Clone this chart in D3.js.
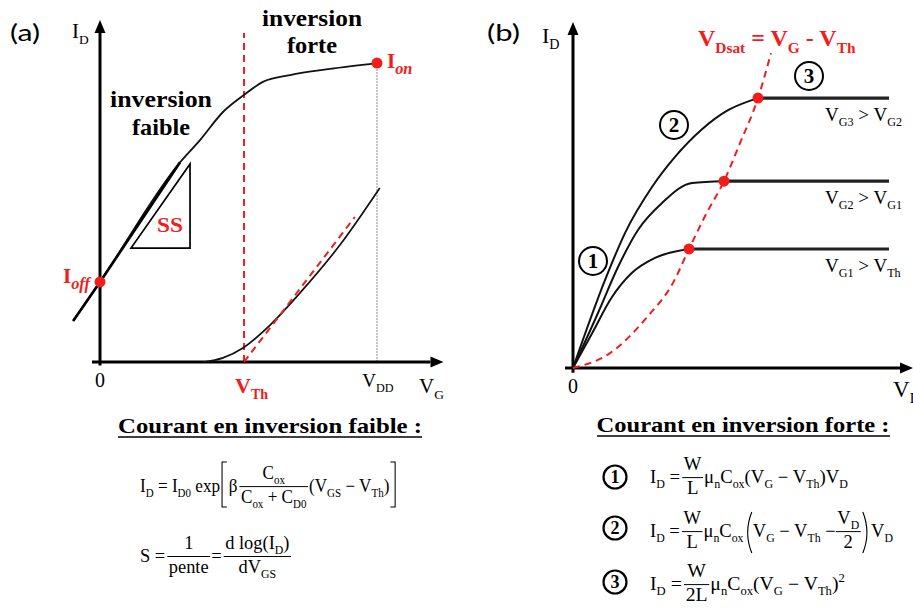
<!DOCTYPE html>
<html>
<head>
<meta charset="utf-8">
<script src="https://cdn.jsdelivr.net/npm/d3@7"></script>
<style>
  body { margin: 0; background: #fff; }
  svg { display: block; }
</style>
</head>
<body>
<svg id="chart" width="913" height="608"></svg>
<script>
// ---------- panel (a) : ID(VG), log and linear scale
const vTh = 5.2, vDD = 10;
const logVg = [-0.97, 0, 2.89, 3.61, 4.44, 5.2, 5.88, 6.86, 8.3, 10];
const logId = [1.2, 2.34, 5.84, 6.49, 7.31, 7.81, 8.19, 8.39, 8.57, 8.74];
const linVg = [3.72, 4.44, 5.16, 6.14, 7.22, 8.66, 10.1];
const linId = [0, 0.12, 0.41, 1.08, 2.02, 3.42, 5.09];
const tanVg = [5.2, 9.2];
const tanId = [0, 4.24];
const ssVg = [1.12, 3.25, 3.25];
const ssId = [3.33, 3.33, 5.79];
const iOff = [0, 2.34];
const iOn = [10, 8.74];

// ---------- panel (b) : ID(VD) for three gate voltages
const vg1Vd = [0, 0.95, 1.95, 2.95, 4.1, 5.8];
const vg1Id = [0, 1.0, 2.05, 2.75, 3.18, 3.44];
const vg2Vd = [0, 1.25, 2.25, 3.25, 4.45, 5.95, 7.55];
const vg2Id = [0, 1.59, 2.92, 3.99, 4.77, 5.35, 5.40];
const vg3Vd = [0, 1.6, 2.6, 3.95, 5.1, 6.45, 7.75, 9.25];
const vg3Id = [0, 2.54, 3.9, 5.23, 6.1, 6.9, 7.45, 7.8];
const satVd = [5.8, 7.55, 9.25];
const satId = [3.44, 5.40, 7.8];
const vdEnd = 15.8;
const dsatVd = [0, 1.85, 3.7, 5.0, 5.8, 6.7, 7.55, 8.35, 9.25, 9.9];
const dsatId = [0, 0.43, 1.47, 2.46, 3.44, 4.5, 5.40, 6.5, 7.8, 9.1];
const curveLabels = [["G1", "Th"], ["G2", "G1"], ["G3", "G2"]];

const SERIF = "'Liberation Serif', 'Times New Roman', serif";
const SANS = "Lato, 'Open Sans', sans-serif";
const RED = "#f21c1c";

const svg = d3.select("#chart");

const xA = d3.scaleLinear().domain([0, 10]).range([100, 377]);
const yA = d3.scaleLinear().domain([0, 10]).range([362, 20]);
const xB = d3.scaleLinear().domain([0, 16]).range([573, 893]);
const yB = d3.scaleLinear().domain([0, 10]).range([368, 22]);

// text with sub/superscripts: parts = ["V", ["Th","s"], ...]
function rich(g, x, y, parts, size, opt = {}) {
  const t = g.append("text").attr("x", x).attr("y", y)
    .attr("font-size", size)
    .attr("font-family", opt.family || SERIF)
    .attr("fill", opt.fill || "#000");
  if (opt.bold) t.attr("font-weight", "bold");
  if (opt.anchor) t.attr("text-anchor", opt.anchor);
  let off = 0;
  parts.forEach(p => {
    const [s, k] = Array.isArray(p) ? p : [p, "n"];
    const target = k.includes("s") ? size * 0.28 : k.includes("p") ? -size * 0.42 : 0;
    const ts = t.append("tspan").attr("dy", target - off).text(s);
    off = target;
    if (k.includes("s") || k.includes("p")) ts.attr("font-size", size * (opt.sub || 0.64));
    if (k.includes("i")) ts.attr("font-style", "italic");
  });
  return t;
}

function arrow(g, x1, y1, x2, y2, w = 3) {
  const L = 13, H = 5.5;
  const a = Math.atan2(y2 - y1, x2 - x1);
  const bx = x2 - L * Math.cos(a), by = y2 - L * Math.sin(a);
  g.append("line").attr("x1", x1).attr("y1", y1).attr("x2", bx).attr("y2", by)
    .attr("stroke", "#000").attr("stroke-width", w);
  g.append("path")
    .attr("d", `M${x2},${y2}L${bx - H * Math.sin(a)},${by + H * Math.cos(a)}L${bx + H * Math.sin(a)},${by - H * Math.cos(a)}Z`)
    .attr("fill", "#000");
}

function plain(g, x, y, s, size, opt = {}) {
  const t = g.append("text").attr("x", x).attr("y", y).text(s)
    .attr("font-size", size)
    .attr("font-family", opt.family || SERIF)
    .attr("font-weight", opt.bold ? "bold" : "normal")
    .attr("fill", opt.fill || "#000")
    .attr("text-anchor", opt.anchor || "start");
  if (opt.len) t.attr("textLength", opt.len).attr("lengthAdjust", "spacingAndGlyphs");
  return t;
}

// simple formula layout: text runs, fractions, brackets; squeezed to a width
function formula(parent, x, y, items, size, width) {
  const g = parent.append("g");
  let cx = x;
  items.forEach(it => {
    if (it.gap) { cx += it.gap; return; }
    if (it.frac) {
      const n = rich(g, 0, y - size * 0.7, it.frac[0], size, { anchor: "middle" });
      const d = rich(g, 0, y + size * 0.62, it.frac[1], size, { anchor: "middle" });
      const w = Math.max(n.node().getBBox().width, d.node().getBBox().width) + 3;
      n.attr("x", cx + w / 2);
      d.attr("x", cx + w / 2);
      g.append("line").attr("x1", cx).attr("x2", cx + w)
        .attr("y1", y - size * 0.3).attr("y2", y - size * 0.3)
        .attr("stroke", "#000").attr("stroke-width", 1);
      cx += w + 1;
    } else if (it.br) {
      const t = y + it.top, b = y + it.bot, w = it.w;
      let d;
      if (it.br === "[") d = `M${cx + w - 2},${t}H${cx + 2}V${b}H${cx + w - 2}`;
      else if (it.br === "]") d = `M${cx + 1},${t}H${cx + w - 3}V${b}H${cx + 1}`;
      else if (it.br === "(") d = `M${cx + w - 1},${t}Q${cx},${(t + b) / 2} ${cx + w - 1},${b}`;
      else d = `M${cx + 1},${t}Q${cx + w},${(t + b) / 2} ${cx + 1},${b}`;
      g.append("path").attr("d", d).attr("fill", "none").attr("stroke", "#000").attr("stroke-width", 1.1);
      cx += w;
    } else {
      const t = rich(g, cx, y, it.t, size);
      cx += t.node().getComputedTextLength();
    }
  });
  if (width) {
    const k = width / (cx - x);
    g.attr("transform", `translate(${x},0) scale(${k},1) translate(${-x},0)`);
  }
}

const line = (sx, sy, curve) => d3.line().x(d => sx(d[0])).y(d => sy(d[1])).curve(curve || d3.curveLinear);

// ================= panel (a)
const gA = svg.append("g");

gA.append("line")
  .attr("x1", xA(vDD)).attr("x2", xA(vDD)).attr("y1", yA(0)).attr("y2", yA(iOn[1]))
  .attr("stroke", "#999").attr("stroke-width", 1.1).attr("stroke-dasharray", "2,1");

gA.append("line")
  .attr("x1", xA(vTh)).attr("x2", xA(vTh)).attr("y1", yA(0)).attr("y2", yA(9.62))
  .attr("stroke", RED).attr("stroke-width", 2).attr("stroke-dasharray", "7,5");

arrow(gA, xA(-0.29), yA(0), xA(12.4), yA(0));
arrow(gA, xA(0), yA(-0.1), xA(0), yA(10));

const logPts = d3.zip(logVg, logId);
gA.append("path").attr("d", line(xA, yA, d3.curveMonotoneX)(logPts))
  .attr("fill", "none").attr("stroke", "#111").attr("stroke-width", 1.8);
gA.append("path").attr("d", line(xA, yA)(logPts.slice(0, 3)))
  .attr("fill", "none").attr("stroke", "#000").attr("stroke-width", 2.7);

gA.append("path").attr("d", line(xA, yA, d3.curveMonotoneX)(d3.zip(linVg, linId)))
  .attr("fill", "none").attr("stroke", "#111").attr("stroke-width", 1.7);

gA.append("path").attr("d", line(xA, yA)(d3.zip(tanVg, tanId)))
  .attr("fill", "none").attr("stroke", RED).attr("stroke-width", 2).attr("stroke-dasharray", "7,5");

gA.append("path").attr("d", line(xA, yA)(d3.zip(ssVg, ssId)) + "Z")
  .attr("fill", "none").attr("stroke", "#000").attr("stroke-width", 1.7);

gA.selectAll("circle.pt").data([iOff, iOn]).join("circle")
  .attr("class", "pt").attr("cx", d => xA(d[0])).attr("cy", d => yA(d[1]))
  .attr("r", 5.5).attr("fill", RED);

plain(gA, 10, 41, "(a)", 23, { family: SANS, len: 30 });
rich(gA, 72, 38, ["I", ["D", "s"]], 21);
plain(gA, 312, 26, "inversion", 23, { bold: true, anchor: "middle", len: 100 });
plain(gA, 312, 53, "forte", 23, { bold: true, anchor: "middle", len: 50 });
plain(gA, 161, 107, "inversion", 23, { bold: true, anchor: "middle", len: 102 });
plain(gA, 161, 135, "faible", 23, { bold: true, anchor: "middle", len: 58 });
plain(gA, 170, 232, "SS", 22, { bold: true, fill: RED, anchor: "middle", len: 26 });
rich(gA, 63, 283, ["I", ["off", "si"]], 21, { bold: true, fill: RED, sub: 0.78 });
rich(gA, 387, 68, ["I", ["on", "si"]], 21, { bold: true, fill: RED, sub: 0.78 });
plain(gA, xA(0), 387, "0", 20, { anchor: "middle" });
rich(gA, xA(vDD) + 1, 387, ["V", ["DD", "s"]], 19, { anchor: "middle" });
rich(gA, xA(vTh) - 9, 393, ["V", ["Th", "s"]], 22, { bold: true, fill: RED });
rich(gA, 419, 393, ["V", ["G", "s"]], 21);

// ================= panel (b)
const gB = svg.append("g");

arrow(gB, xB(-0.4), yB(0), xB(17), yB(0));
arrow(gB, xB(0), yB(-0.14), xB(0), yB(10));

const curves = [d3.zip(vg1Vd, vg1Id), d3.zip(vg2Vd, vg2Id), d3.zip(vg3Vd, vg3Id)];
gB.selectAll("path.iv").data(curves).join("path")
  .attr("class", "iv")
  .attr("d", d => line(xB, yB, d3.curveMonotoneX)(d))
  .attr("fill", "none").attr("stroke", "#111").attr("stroke-width", 2);

gB.selectAll("line.sat").data(d3.zip(satVd, satId)).join("line")
  .attr("class", "sat")
  .attr("x1", d => xB(d[0])).attr("x2", xB(vdEnd))
  .attr("y1", d => yB(d[1])).attr("y2", d => yB(d[1]))
  .attr("stroke", "#222").attr("stroke-width", 3.2);

gB.append("path").attr("d", line(xB, yB, d3.curveMonotoneX)(d3.zip(dsatVd, dsatId)))
  .attr("fill", "none").attr("stroke", RED).attr("stroke-width", 2).attr("stroke-dasharray", "7,5");

gB.selectAll("circle.pt").data(d3.zip(satVd, satId)).join("circle")
  .attr("class", "pt").attr("cx", d => xB(d[0])).attr("cy", d => yB(d[1]))
  .attr("r", 5.5).attr("fill", RED);

satId.forEach((v, i) => {
  const [a, b] = curveLabels[i];
  rich(gB, 825, yB(v) + 23, ["V", [a, "s"], " > V", [b, "s"]], 19);
});

plain(gB, 487, 41, "(b)", 23, { family: SANS, len: 33 });
rich(gB, 542, 43, ["I", ["D", "s"]], 22);
rich(gB, 698, 46, ["V", ["Dsat", "s"], " = V", ["G", "s"], " - V", ["Th", "s"]], 24, { bold: true, fill: RED });
plain(gB, xB(0), 393, "0", 20, { anchor: "middle" });
rich(gB, 893, 397, ["V", ["D", "s"]], 23);

function badge(g, cx, cy, r, n, size, sw) {
  g.append("circle").attr("cx", cx).attr("cy", cy).attr("r", r)
    .attr("fill", "#fff").attr("stroke", "#000").attr("stroke-width", sw);
  plain(g, cx, cy + size * 0.34, n, size, { bold: true, anchor: "middle" });
}
badge(gB, 593, 261, 14, "1", 21, 2);
badge(gB, 674, 125, 14, "2", 21, 2);
badge(gB, 809, 76, 14, "3", 21, 2);

// ================= formulas
const gF = svg.append("g");

plain(gF, 270, 433, "Courant en inversion faible :", 22, { bold: true, anchor: "middle", len: 304 });
gF.append("line").attr("x1", 118).attr("x2", 422).attr("y1", 437).attr("y2", 437)
  .attr("stroke", "#000").attr("stroke-width", 1.6);
plain(gF, 743, 432, "Courant en inversion forte :", 22, { bold: true, anchor: "middle", len: 293 });
gF.append("line").attr("x1", 597).attr("x2", 890).attr("y1", 436).attr("y2", 436)
  .attr("stroke", "#000").attr("stroke-width", 1.6);

const FS = 18;
formula(gF, 140, 492, [
  { t: ["I", ["D", "s"], " = I", ["D0", "s"], " exp"] },
  { br: "[", top: -30, bot: 15, w: 9 },
  { t: ["β"] }, { gap: 2 },
  { frac: [["C", ["ox", "s"]], ["C", ["ox", "s"], " + C", ["D0", "s"]]] },
  { t: ["(V", ["GS", "s"], " − V", ["Th", "s"], ")"] },
  { br: "]", top: -30, bot: 15, w: 9 }
], FS, 258);

formula(gF, 140, 562, [
  { t: ["S = "] }, { gap: 2 },
  { frac: [["1"], ["pente"]] },
  { t: [" = "] }, { gap: 2 },
  { frac: [["d log(I", ["D", "s"], ")"], ["dV", ["GS", "s"]]] }
], FS, 152);

const fY = [483, 537, 590];
const cY = [477, 528, 582];
["1", "2", "3"].forEach((n, i) => badge(gF, 615, cY[i], 11.5, n, 18, 2.2));

formula(gF, 650, fY[0], [
  { t: ["I", ["D", "s"], " = "] }, { gap: 2 },
  { frac: [["W"], ["L"]] },
  { t: ["μ", ["n", "s"], "C", ["ox", "s"], "(V", ["G", "s"], " − V", ["Th", "s"], ")V", ["D", "s"]] }
], FS, 198);

formula(gF, 650, fY[1], [
  { t: ["I", ["D", "s"], " = "] }, { gap: 2 },
  { frac: [["W"], ["L"]] },
  { t: ["μ", ["n", "s"], "C", ["ox", "s"]] },
  { br: "(", top: -25, bot: 16, w: 9 },
  { t: ["V", ["G", "s"], " − V", ["Th", "s"], " − "] },
  { frac: [["V", ["D", "s"]], ["2"]] },
  { br: ")", top: -25, bot: 16, w: 9 },
  { t: ["V", ["D", "s"]] }
], FS, 243);

formula(gF, 650, fY[2], [
  { t: ["I", ["D", "s"], " = "] }, { gap: 2 },
  { frac: [["W"], ["2L"]] },
  { t: ["μ", ["n", "s"], "C", ["ox", "s"], "(V", ["G", "s"], " − V", ["Th", "s"], ")", ["2", "p"]] }
], FS, 195);
</script>
</body>
</html>
